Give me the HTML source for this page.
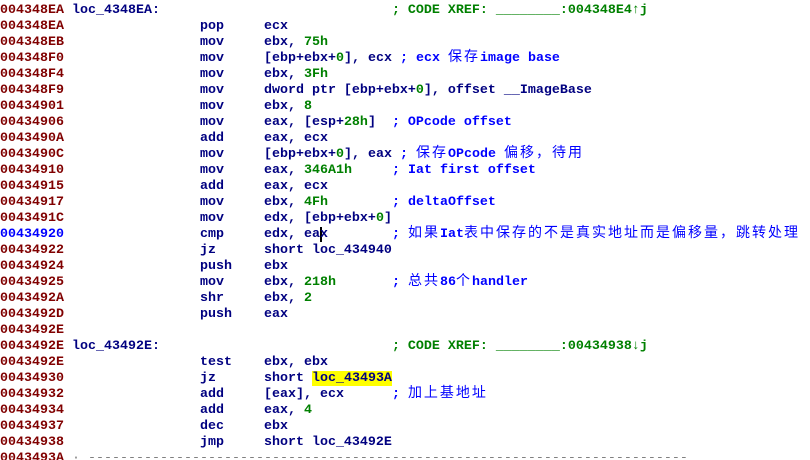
<!DOCTYPE html>
<html><head><meta charset="utf-8"><style>
html,body{margin:0;padding:0;background:#fff;width:810px;height:460px;overflow:hidden}
pre{margin:0;padding:3px 0 0 0;font-family:"Liberation Mono","Noto Sans CJK SC",monospace;font-weight:bold;font-size:13.33px;line-height:16px;color:#000080;white-space:pre}
.a{color:#800000}.b{color:#0000ff}.n{color:#008000}.c{color:#0000ff}.x{color:#008000}
.h{background:#ffff00}
.z{font-weight:normal;font-size:14px;letter-spacing:2px;line-height:10px}
.g{color:#808080;font-weight:normal}
.cur{box-shadow:inset 2px 0 0 #000}
</style></head><body><pre><span class="a">004348EA</span> loc_4348EA:                             <span class="x">; CODE XREF: ________:004348E4↑j</span>
<span class="a">004348EA</span>                 pop     ecx
<span class="a">004348EB</span>                 mov     ebx, <span class="n">75h</span>
<span class="a">004348F0</span>                 mov     [ebp+ebx+<span class="n">0</span>], ecx <span class="c">; ecx <span class="z">保存</span>image base</span>
<span class="a">004348F4</span>                 mov     ebx, <span class="n">3Fh</span>
<span class="a">004348F9</span>                 mov     dword ptr [ebp+ebx+<span class="n">0</span>], offset __ImageBase
<span class="a">00434901</span>                 mov     ebx, <span class="n">8</span>
<span class="a">00434906</span>                 mov     eax, [esp+<span class="n">28h</span>]  <span class="c">; OPcode offset</span>
<span class="a">0043490A</span>                 add     eax, ecx
<span class="a">0043490C</span>                 mov     [ebp+ebx+<span class="n">0</span>], eax <span class="c">; <span class="z">保存</span>OPcode <span class="z">偏移，待用</span></span>
<span class="a">00434910</span>                 mov     eax, <span class="n">346A1h</span>     <span class="c">; Iat first offset</span>
<span class="a">00434915</span>                 add     eax, ecx
<span class="a">00434917</span>                 mov     ebx, <span class="n">4Fh</span>        <span class="c">; deltaOffset</span>
<span class="a">0043491C</span>                 mov     edx, [ebp+ebx+<span class="n">0</span>]
<span class="b">00434920</span>                 cmp     edx, ea<span class="cur">x</span>        <span class="c">; <span class="z">如果</span>Iat<span class="z">表中保存的不是真实地址而是偏移量，跳转处理</span></span>
<span class="a">00434922</span>                 jz      short loc_434940
<span class="a">00434924</span>                 push    ebx
<span class="a">00434925</span>                 mov     ebx, <span class="n">218h</span>       <span class="c">; <span class="z">总共</span>86<span class="z">个</span>handler</span>
<span class="a">0043492A</span>                 shr     ebx, <span class="n">2</span>
<span class="a">0043492D</span>                 push    eax
<span class="a">0043492E</span>
<span class="a">0043492E</span> loc_43492E:                             <span class="x">; CODE XREF: ________:00434938↓j</span>
<span class="a">0043492E</span>                 test    ebx, ebx
<span class="a">00434930</span>                 jz      short <span class="h">loc_43493A</span>
<span class="a">00434932</span>                 add     [eax], ecx      <span class="c">; <span class="z">加上基地址</span></span>
<span class="a">00434934</span>                 add     eax, <span class="n">4</span>
<span class="a">00434937</span>                 dec     ebx
<span class="a">00434938</span>                 jmp     short loc_43492E
<span class="a">0043493A</span> <span class="g">· ---------------------------------------------------------------------------</span>
</pre></body></html>
